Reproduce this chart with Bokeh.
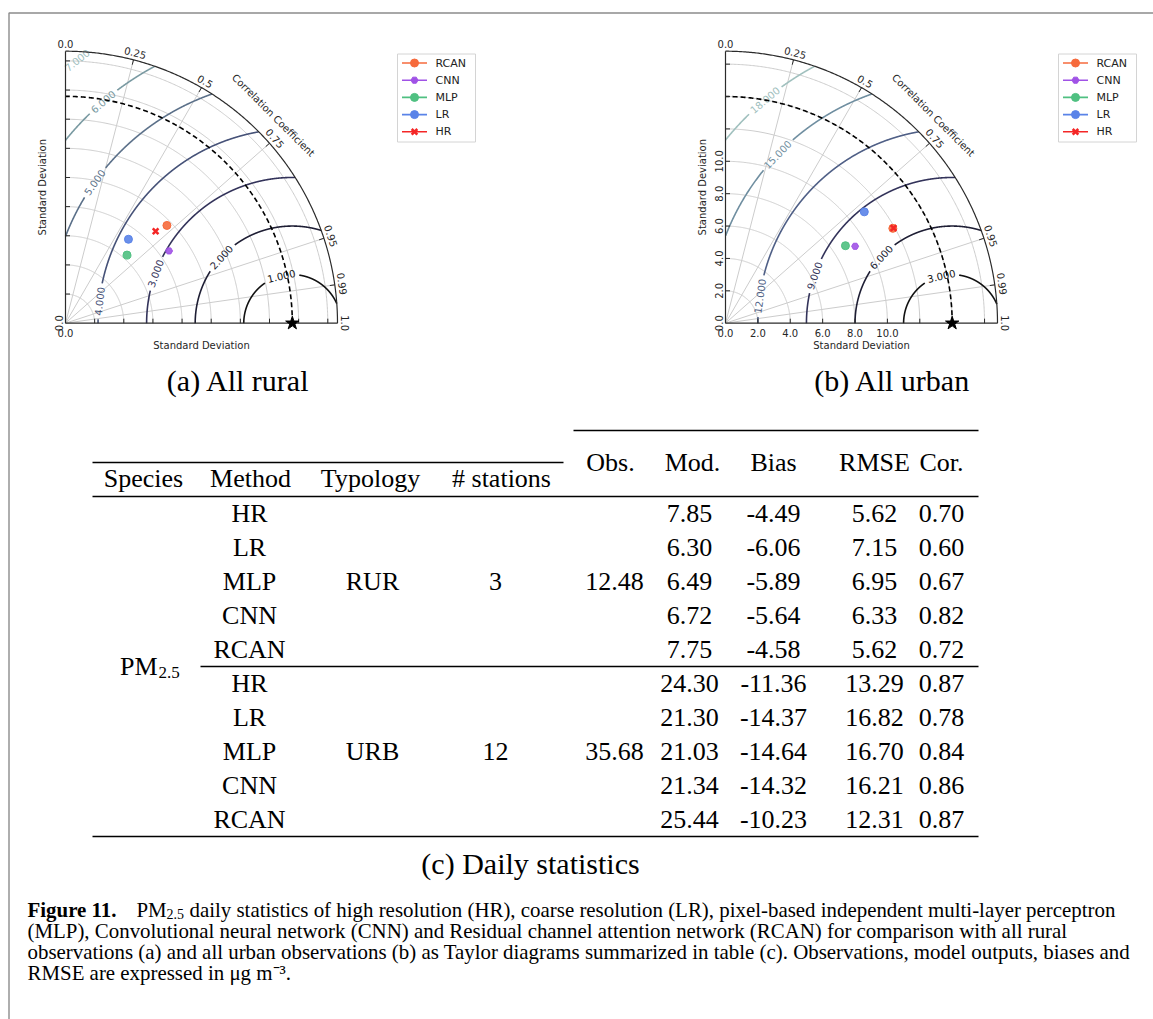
import numpy as np
from bokeh.plotting import figure
from bokeh.models import Range1d
from bokeh.core.properties import value
from bokeh.embed import file_html
from bokeh.resources import INLINE

# ---------------- Taylor diagram values ----------------
methods = ["RCAN", "CNN", "MLP", "LR", "HR"]
rural_std = [2.90, 2.60, 1.89, 2.16, 2.65]
rural_cor = [0.72, 0.82, 0.67, 0.60, 0.70]
urban_std = [11.88, 9.31, 8.82, 10.99, 11.93]
urban_cor = [0.87, 0.86, 0.84, 0.78, 0.87]
rural_obs_std = 4.67
urban_obs_std = 14.0
rural_std_max = 5.6
urban_std_max = 16.8
rural_std_ticks = [0.6, 1.2, 1.8, 2.4, 3.0, 3.6, 4.2, 4.8, 5.4]
urban_std_ticks = [2.0, 4.0, 6.0, 8.0, 10.0, 12.0, 14.0, 16.0]
rural_std_labels = [0.0]
urban_std_labels = [0.0, 2.0, 4.0, 6.0, 8.0, 10.0]
rural_rms_levels = [1, 2, 3, 4, 5, 6, 7]
urban_rms_levels = [3, 6, 9, 12, 15, 18]
cor_grid = [0.25, 0.5, 0.75, 0.95, 0.99]
cor_tick_values = [0.0, 0.25, 0.5, 0.75, 0.95, 0.99, 1.0]
cor_tick_labels = ["0.0", "0.25", "0.5", "0.75", "0.95", "0.99", "1.0"]

# ---------------- table values ----------------
table_methods = ["HR", "LR", "MLP", "CNN", "RCAN"]
typologies = ["RUR", "URB"]
n_stations = [3, 12]
obs_means = [12.48, 35.68]
rur_mod = [7.85, 6.30, 6.49, 6.72, 7.75]
rur_bias = [-4.49, -6.06, -5.89, -5.64, -4.58]
rur_rmse = [5.62, 7.15, 6.95, 6.33, 5.62]
rur_cor = [0.70, 0.60, 0.67, 0.82, 0.72]
urb_mod = [24.30, 21.30, 21.03, 21.34, 25.44]
urb_bias = [-11.36, -14.37, -14.64, -14.32, -10.23]
urb_rmse = [13.29, 16.82, 16.70, 16.21, 12.31]
urb_cor = [0.87, 0.78, 0.84, 0.86, 0.87]
left_headers = ["Species", "Method", "Typology", "# stations"]
right_headers = ["Obs.", "Mod.", "Bias", "RMSE", "Cor."]

# ---------------- styles ----------------
method_colors = ["#f66a3c", "#a052e6", "#4fc081", "#5a83e8", "#f42626"]
method_markers = ["circle", "hex", "circle", "circle", "x"]
marker_sizes = [8, 7, 8, 8, 8]
marker_lw = [1, 1, 1, 1, 2.6]
rural_rms_colors = ["#111111", "#1e1e34", "#33335a", "#465278", "#5b7089", "#7a9aa2", "#a0c0be"]
urban_rms_colors = ["#111111", "#1e1e34", "#33335a", "#4f5f86", "#6f8ea0", "#a0c0be"]
rural_label_phi = [103, 137, 160, 173.5, 144.5, 130.5, 129.3]
urban_label_phi = [103, 137, 161, 172, 136, 130]

SANS = "DejaVu Sans"
SERIF = "Liberation Serif"

PX0, PX1, PY0, PY1 = 0, 1153, 0, 1019
R_PX = 272.0
A_ORIGIN = (65.0, 322.7)
B_ORIGIN = (725.0, 322.7)


def make_ranges(ox, oy, smax):
    k = R_PX / smax
    return k, Range1d((PX0 - ox) / k, (PX1 - ox) / k), Range1d((oy - PY1) / k, (oy - PY0) / k)


ka, axr, ayr = make_ranges(*A_ORIGIN, rural_std_max)
kb, bxr, byr = make_ranges(*B_ORIGIN, urban_std_max)

p = figure(width=PX1 - PX0, height=PY1 - PY0,
           x_range=Range1d(PX0, PX1), y_range=Range1d(PY1, PY0),
           extra_x_ranges={"a": axr, "b": bxr}, extra_y_ranges={"a": ayr, "b": byr},
           output_backend="svg", toolbar_location=None,
           x_axis_location=None, y_axis_location=None, min_border=0,
           outline_line_color=None, background_fill_color="white", border_fill_color="white")
p.grid.visible = False


def txt(xs, ys, ss, size, font=SERIF, align="center", baseline="middle", angles=None,
        color="black", style="normal", **kw):
    if angles is None:
        angles = [0.0] * len(ss)
    p.text(x=list(xs), y=list(ys), text=list(ss), angle=list(angles),
           text_font=value(font), text_font_size=f"{size}px", text_align=align,
           text_baseline=baseline, text_color=color, text_font_style=style, **kw)


def runs(x, y, ok):
    xs, ys = [], []
    idx = np.flatnonzero(ok)
    if len(idx) == 0:
        return xs, ys
    for g in np.split(idx, np.where(np.diff(idx) > 1)[0] + 1):
        if len(g) > 1:
            xs.append(x[g].tolist())
            ys.append(y[g].tolist())
    return xs, ys


def draw_taylor(key, k, smax, obs, ticks, slabels, levels, phis, colors, stds, cors):
    kw = dict(x_range_name=key, y_range_name=key)
    px = 1.0 / k
    th = np.linspace(0, np.pi / 2, 300)
    # std grid arcs
    p.multi_line([(s * np.cos(th)).tolist() for s in ticks], [(s * np.sin(th)).tolist() for s in ticks],
                 line_color="#cccccc", line_width=1, **kw)
    # correlation radial grid
    ang = np.arccos(np.array(cor_grid))
    p.segment(x0=[0.0] * len(ang), y0=[0.0] * len(ang), x1=(smax * np.cos(ang)).tolist(),
              y1=(smax * np.sin(ang)).tolist(), line_color="#cccccc", line_width=1, **kw)
    # centred RMS contours
    phi = np.linspace(0, np.pi, 2500)
    for lev, ph, col in zip(levels, phis, colors):
        lab = f"{lev:.3f}"
        x = obs + lev * np.cos(phi)
        y = lev * np.sin(phi)
        gap = (len(lab) * 3.0 + 3.0) * px / lev
        ok = (x >= 0) & (np.hypot(x, y) <= smax) & (np.abs(phi - np.radians(ph)) > gap)
        sx, sy = runs(x, y, ok)
        p.multi_line(sx, sy, line_color=col, line_width=1.6, **kw)
        lx = obs + lev * np.cos(np.radians(ph))
        ly = lev * np.sin(np.radians(ph))
        txt([lx], [ly], [lab], 10, font=SANS, angles=[np.radians(ph - 90)], color=col, **kw)
    # observed std arc
    p.line((obs * np.cos(th)).tolist(), (obs * np.sin(th)).tolist(), line_color="black",
           line_width=1.6, line_dash="5 3", **kw)
    # frame
    p.line([0, 0], [0, smax], line_color="#2b2b2b", line_width=1.2, **kw)
    p.line([0, smax], [0, 0], line_color="#2b2b2b", line_width=1.2, **kw)
    p.line((smax * np.cos(th)).tolist(), (smax * np.sin(th)).tolist(), line_color="#2b2b2b",
           line_width=1.2, **kw)
    # ticks
    tl = 4.5 * px
    p.segment(x0=[0.0] * len(ticks), y0=list(ticks), x1=[tl] * len(ticks), y1=list(ticks),
              line_color="#2b2b2b", line_width=1, **kw)
    p.segment(x0=list(ticks), y0=[0.0] * len(ticks), x1=list(ticks), y1=[tl] * len(ticks),
              line_color="#2b2b2b", line_width=1, **kw)
    p.segment(x0=(smax * np.cos(ang)).tolist(), y0=(smax * np.sin(ang)).tolist(),
              x1=((smax - 5 * px) * np.cos(ang)).tolist(), y1=((smax - 5 * px) * np.sin(ang)).tolist(),
              line_color="#2b2b2b", line_width=1, **kw)
    # correlation labels
    ca = np.arccos(np.array(cor_tick_values))
    rl = smax + 7.5 * px
    txt((rl * np.cos(ca)).tolist(), (rl * np.sin(ca)).tolist(), cor_tick_labels, 10, font=SANS,
        angles=(ca - np.pi / 2).tolist(), color="#262626", **kw)
    rc = smax + 22 * px
    txt([rc * np.cos(np.pi / 4)], [rc * np.sin(np.pi / 4)], ["Correlation Coefficient"], 10, font=SANS,
        angles=[-np.pi / 4], color="#262626", **kw)
    # std labels
    lbl = [f"{v:.1f}" for v in slabels]
    txt(list(slabels), [-10 * px] * len(slabels), lbl, 10, font=SANS, color="#262626", **kw)
    txt([-7 * px] * len(slabels), list(slabels), lbl, 10, font=SANS, angles=[np.pi / 2] * len(slabels),
        color="#262626", **kw)
    txt([smax / 2], [-22.3 * px], ["Standard Deviation"], 10, font=SANS, color="#262626", **kw)
    txt([-23.3 * px], [smax / 2], ["Standard Deviation"], 10, font=SANS, angles=[np.pi / 2],
        color="#262626", **kw)
    # reference point
    p.scatter([obs], [0.0], marker="star", size=14, fill_color="black", line_color="black", **kw)
    # models
    c = np.array(cors)
    s = np.array(stds)
    p.scatter(x=(s * c).tolist(), y=(s * np.sin(np.arccos(c))).tolist(), marker=method_markers,
              size=marker_sizes, fill_color=method_colors, line_color=method_colors,
              line_width=marker_lw, fill_alpha=0.9, **kw)


draw_taylor("a", ka, rural_std_max, rural_obs_std, rural_std_ticks, rural_std_labels,
            rural_rms_levels, rural_label_phi, rural_rms_colors, rural_std, rural_cor)
draw_taylor("b", kb, urban_std_max, urban_obs_std, urban_std_ticks, urban_std_labels,
            urban_rms_levels, urban_label_phi, urban_rms_colors, urban_std, urban_cor)


# ---------------- legends ----------------
def legend(left):
    rows = [62.5 + 17.2 * i for i in range(len(methods))]
    p.quad(left=[left], right=[left + 78], top=[53.5], bottom=[141.5], fill_color="white",
           line_color="#d4d4d4", line_width=1)
    p.segment(x0=[left + 4.5] * 5, y0=rows, x1=[left + 29.5] * 5, y1=rows,
              line_color=method_colors, line_width=1.6)
    p.scatter(x=[left + 17] * 5, y=rows, marker=method_markers, size=marker_sizes,
              fill_color=method_colors, line_color=method_colors, line_width=marker_lw)
    txt([left + 38] * 5, rows, methods, 11, font=SANS, align="left", color="#222222")


legend(397)
legend(1058)

# ---------------- outer border ----------------
p.line([8.5, 8.5, PX1], [PY1, 12.5, 12.5], line_color="#8c8c8c", line_width=1.4)

# ---------------- sub captions ----------------
txt([238, 892], [380, 380], ["(a) All rural", "(b) All urban"], 30)
txt([530], [863], ["(c) Daily statistics"], 30)

# ---------------- table ----------------
FS = 26
p.segment(x0=[573, 92, 92, 200, 92], y0=[430, 462, 496, 666, 836],
          x1=[978, 563, 978, 978, 978], y1=[430, 462, 496, 666, 836],
          line_color="black", line_width=1.5)
txt([143, 250, 370, 501], [478] * 4, left_headers, FS)
txt([610, 692, 773, 874, 941], [462] * 5, right_headers, FS)
row_y = [513 + 34 * i for i in range(10)]
txt([249] * 10, row_y, table_methods * 2, FS)
txt([372, 372], [row_y[2], row_y[7]], typologies, FS)
txt([495, 495], [row_y[2], row_y[7]], [str(n) for n in n_stations], FS)
txt([614, 614], [row_y[2], row_y[7]], [f"{v:.2f}" for v in obs_means], FS)
for xc, a, b in [(689, rur_mod, urb_mod), (773, rur_bias, urb_bias),
                 (874, rur_rmse, urb_rmse), (941, rur_cor, urb_cor)]:
    txt([xc] * 10, row_y, [f"{v:.2f}" for v in list(a) + list(b)], FS)
txt([157], [666], ["PM"], FS, align="right")
txt([158], [672], ["2.5"], 17, align="left")

# ---------------- figure caption ----------------
CF = 20.9
txt([27], [909], ["Figure 11."], CF, align="left", style="bold")
txt([136], [909], ["PM"], CF, align="left")
txt([166], [913], ["2.5"], 14, align="left")
txt([189], [909], ["daily statistics of high resolution (HR), coarse resolution (LR), pixel-based independent multi-layer perceptron"], CF, align="left")
txt([27], [930], ["(MLP), Convolutional neural network (CNN) and Residual channel attention network (RCAN) for comparison with all rural"], CF, align="left")
txt([27], [951], ["observations (a) and all urban observations (b) as Taylor diagrams summarized in table (c). Observations, model outputs, biases and"], CF, align="left")
txt([27], [972], ["RMSE are expressed in \u03bcg m\u207b\u00b3."], CF, align="left")

open("out.html", "w").write(file_html(p, INLINE))
